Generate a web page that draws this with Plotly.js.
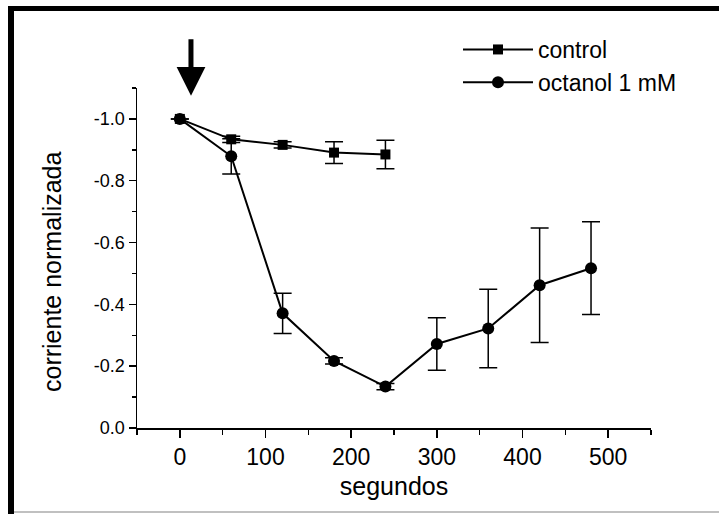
<!DOCTYPE html>
<html>
<head>
<meta charset="utf-8">
<script src="https://cdn.plot.ly/plotly-3.0.1.min.js"></script>
<style>html,body{margin:0;padding:0;background:#fff;}#chart{width:719px;height:514px;}</style>
</head>
<body>
<div id="chart"></div>
<script>
// Data
var timeControl = [0, 60, 120, 180, 240];
var control = [-1.0, -0.934, -0.916, -0.891, -0.885];
var controlErr = [0.0, 0.01, 0.01, 0.035, 0.046];

var timeOctanol = [0, 60, 120, 180, 240, 300, 360, 420, 480];
var octanol = [-1.0, -0.879, -0.371, -0.217, -0.134, -0.272, -0.322, -0.462, -0.517];
var octanolErr = [0.0, 0.057, 0.065, 0.01, 0.01, 0.085, 0.127, 0.185, 0.15];

var seriesNames = ['control', 'octanol 1 mM'];
var yTickVals = [0.0, -0.2, -0.4, -0.6, -0.8, -1.0];
var yTickText = ['0.0', '-0.2', '-0.4', '-0.6', '-0.8', '-1.0'];
var xTickVals = [0, 100, 200, 300, 400, 500];
var xTickText = ['0', '100', '200', '300', '400', '500'];

var font = 'Liberation Sans, Arial, sans-serif';

var traces = [
  {
    x: timeControl, y: control, name: seriesNames[0], type: 'scatter', mode: 'lines+markers',
    line: {color: '#000', width: 2},
    marker: {symbol: 'square', size: 10, color: '#000'},
    error_y: {type: 'data', array: controlErr, visible: true, color: '#000', thickness: 1.5, width: 9}
  },
  {
    x: timeOctanol, y: octanol, name: seriesNames[1], type: 'scatter', mode: 'lines+markers',
    line: {color: '#000', width: 2},
    marker: {symbol: 'circle', size: 12, color: '#000'},
    error_y: {type: 'data', array: octanolErr, visible: true, color: '#000', thickness: 1.5, width: 9}
  }
];

function px2x(px) { return (px - 137) / 514; }
function py2y(py) { return (428 - py) / 340; }

var layout = {
  width: 719, height: 514,
  margin: {l: 137, r: 68, t: 88, b: 86, pad: 0},
  paper_bgcolor: '#fff', plot_bgcolor: '#fff',
  showlegend: true,
  legend: {
    x: px2x(458), y: py2y(28), xanchor: 'left', yanchor: 'top',
    font: {family: font, size: 23, color: '#000'},
    bgcolor: 'rgba(0,0,0,0)', borderwidth: 0, tracegroupgap: 0, itemwidth: 70
  },
  xaxis: {
    range: [-50, 550], showgrid: false, zeroline: false,
    showline: true, linecolor: '#000', linewidth: 1.5,
    ticks: 'outside', ticklen: 8, tickwidth: 1.5, tickcolor: '#000',
    tickmode: 'array', tickvals: xTickVals, ticktext: xTickText,
    tickfont: {family: font, size: 23, color: '#000'},
    minor: {tickmode: 'linear', tick0: -50, dtick: 50, ticks: 'outside', ticklen: 5, tickwidth: 1.5, tickcolor: '#000', showgrid: false},
    title: {text: 'segundos', font: {family: font, size: 25, color: '#000'}, standoff: 8}
  },
  yaxis: {
    range: [0, -1.1], showgrid: false, zeroline: false,
    showline: true, linecolor: '#000', linewidth: 1.5,
    ticks: 'outside', ticklen: 7, tickwidth: 1.5, tickcolor: '#000',
    tickmode: 'array', tickvals: yTickVals, ticktext: yTickText,
    tickfont: {family: font, size: 18, color: '#000'},
    minor: {tickmode: 'linear', tick0: -0.1, dtick: 0.2, ticks: 'outside', ticklen: 4, tickwidth: 1.5, tickcolor: '#000', showgrid: false}
  },
  annotations: [
    {
      xref: 'paper', yref: 'paper', x: px2x(52), y: py2y(272), text: 'corriente normalizada',
      textangle: -90, showarrow: false, xanchor: 'center', yanchor: 'middle',
      font: {family: font, size: 25, color: '#000'}
    },
    {
      xref: 'x', yref: 'y', x: 13, y: -1.075, ax: 0, ay: -58, axref: 'pixel', ayref: 'pixel',
      showarrow: true, arrowhead: 2, arrowwidth: 5, arrowsize: 1.15, arrowcolor: '#000', text: ''
    }
  ],
  shapes: [
    {type: 'rect', xref: 'paper', yref: 'paper', x0: px2x(8), x1: px2x(14), y0: py2y(514), y1: py2y(6), fillcolor: '#000', line: {width: 0}},
    {type: 'rect', xref: 'paper', yref: 'paper', x0: px2x(8), x1: px2x(719), y0: py2y(11), y1: py2y(6), fillcolor: '#000', line: {width: 0}},
    {type: 'line', xref: 'paper', yref: 'paper', x0: px2x(14), x1: px2x(719), y0: py2y(512), y1: py2y(512), line: {color: '#c0c0c0', width: 2}}
  ]
};

Plotly.newPlot('chart', traces, layout, {staticPlot: true, displayModeBar: false});
</script>
</body>
</html>
